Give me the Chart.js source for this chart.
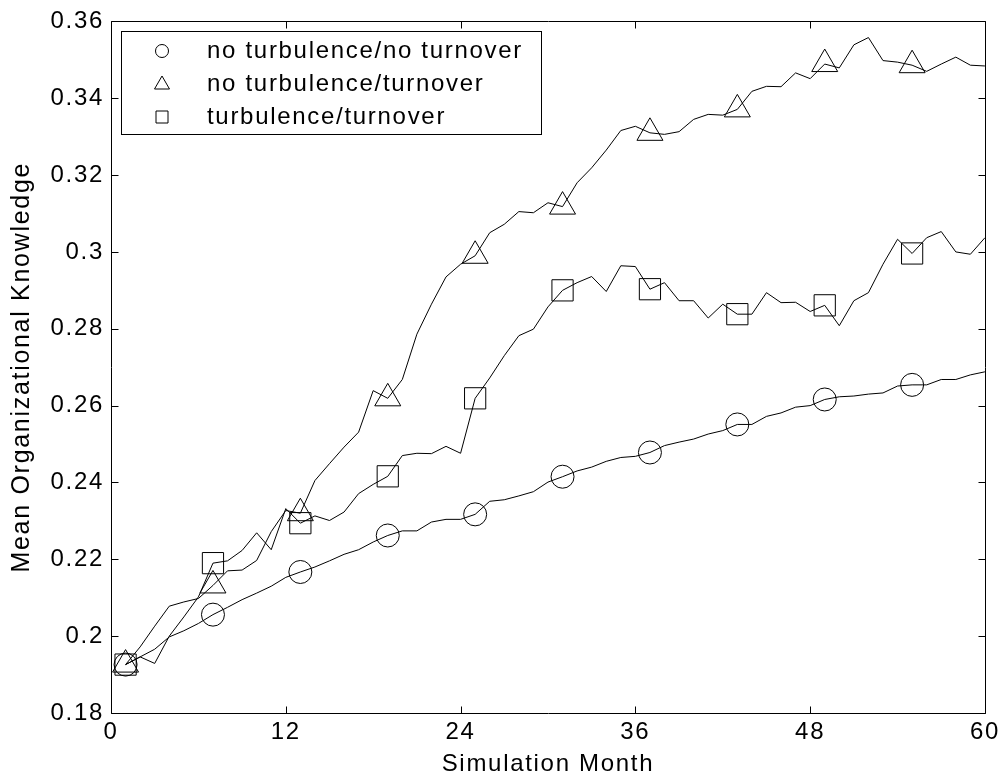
<!DOCTYPE html>
<html>
<head>
<meta charset="utf-8">
<script src="https://cdn.jsdelivr.net/npm/chart.js@4.4.1/dist/chart.umd.min.js"></script>
<style>
    html, body { margin: 0; padding: 0; background: #fff; }
    #wrap { width: 1005px; height: 778px; }
</style>
</head>
<body>
<div id="wrap"><canvas id="knowledge-chart"></canvas></div>
<script>
const months = [
    1, 2, 3, 4, 5, 6, 7, 8, 9, 10, 11, 12, 13, 14, 15, 16, 17, 18, 19, 20,
    21, 22, 23, 24, 25, 26, 27, 28, 29, 30, 31, 32, 33, 34, 35, 36, 37, 38, 39, 40,
    41, 42, 43, 44, 45, 46, 47, 48, 49, 50, 51, 52, 53, 54, 55, 56, 57, 58, 59, 60,
];

const noTurbNoTurnover = [
    0.1926, 0.1946, 0.1966, 0.1998, 0.2014, 0.2033, 0.2056, 0.2075, 0.2095, 0.2112,
    0.2130, 0.2153, 0.2167, 0.2180, 0.2196, 0.2213, 0.2225, 0.2245, 0.2262, 0.2274,
    0.2274, 0.2297, 0.2304, 0.2304, 0.2317, 0.2351, 0.2355, 0.2365, 0.2376, 0.2401,
    0.2415, 0.2430, 0.2440, 0.2455, 0.2465, 0.2468, 0.2478, 0.2496, 0.2505, 0.2513,
    0.2526, 0.2535, 0.2551, 0.2551, 0.2572, 0.2581, 0.2596, 0.2600, 0.2616, 0.2623,
    0.2625, 0.2630, 0.2633, 0.2651, 0.2654, 0.2654, 0.2668, 0.2668, 0.2680, 0.2688,
];

const noTurbTurnover = [
    0.1926, 0.1972, 0.2026, 0.2078, 0.2089, 0.2098, 0.2132, 0.2170, 0.2172, 0.2197,
    0.2272, 0.2327, 0.2320, 0.2405, 0.2449, 0.2492, 0.2531, 0.2639, 0.2619, 0.2668,
    0.2786, 0.2864, 0.2935, 0.2968, 0.2990, 0.3050, 0.3072, 0.3105, 0.3102, 0.3128,
    0.3118, 0.3180, 0.3219, 0.3265, 0.3316, 0.3327, 0.3310, 0.3306, 0.3313, 0.3345,
    0.3358, 0.3356, 0.3371, 0.3418, 0.3431, 0.3430, 0.3466, 0.3451, 0.3489, 0.3479,
    0.3539, 0.3558, 0.3498, 0.3494, 0.3486, 0.3470, 0.3489, 0.3507, 0.3486, 0.3484,
];

const turbTurnover = [
    0.1926, 0.1946, 0.1929, 0.2000, 0.2050, 0.2102, 0.2190, 0.2196, 0.2223, 0.2269,
    0.2225, 0.2332, 0.2294, 0.2313, 0.2301, 0.2323, 0.2371, 0.2395, 0.2416, 0.2470,
    0.2476, 0.2475, 0.2494, 0.2476, 0.2619, 0.2672, 0.2730, 0.2782, 0.2799, 0.2857,
    0.2900, 0.2920, 0.2936, 0.2897, 0.2964, 0.2962, 0.2903, 0.2920, 0.2873, 0.2873,
    0.2828, 0.2864, 0.2838, 0.2838, 0.2894, 0.2868, 0.2869, 0.2845, 0.2861, 0.2808,
    0.2873, 0.2894, 0.2968, 0.3033, 0.2996, 0.3037, 0.3053, 0.3000, 0.2994, 0.3037,
];

const seriesLabels = [
    "no turbulence/no turnover",
    "no turbulence/turnover",
    "turbulence/turnover",
];

const xTicks = [0, 12, 24, 36, 48, 60];
const yTicks = [0.18, 0.2, 0.22, 0.24, 0.26, 0.28, 0.3, 0.32, 0.34, 0.36];

const FONT = "'Liberation Sans', Arial, Helvetica, sans-serif";
const FONT_SIZE = 24;
// the original matlab text is drawn wider than arial, so space it out a bit
const LETTER_SPACING = "1.7px";

function toPoints(values) {
    return values.map((v, i) => ({ x: months[i], y: v }));
}

// markers only every 6th month, like the original plot
function markerEvery6(radius) {
    return (c) => (c.dataIndex % 6 === 0 ? radius : 0);
}

function makeDataset(label, values, style, radius) {
    return {
        label: label,
        data: toPoints(values),
        borderColor: "#000",
        borderWidth: 1,
        tension: 0,
        pointStyle: style,
        pointRadius: markerEvery6(radius),
        pointBorderColor: "#000",
        pointBackgroundColor: "rgba(0,0,0,0)",
        pointBorderWidth: 1,
    };
}

const wideText = {
    id: "wideText",
    beforeLayout(chart) {
        chart.ctx.letterSpacing = LETTER_SPACING;
    },
    beforeDraw(chart) {
        chart.ctx.letterSpacing = LETTER_SPACING;
    },
};

// box around the plot with inward ticks on all four sides
const frameBox = {
    id: "frameBox",
    beforeDatasetsDraw(chart) {
        const { ctx, chartArea: a, scales } = chart;
        const len = 7;
        const l = Math.round(a.left) + 0.5;
        const r = Math.round(a.right) + 0.5;
        const t = Math.round(a.top) + 0.5;
        const b = Math.round(a.bottom) + 0.5;
        ctx.save();
        ctx.strokeStyle = "#000";
        ctx.lineWidth = 1;
        ctx.beginPath();
        ctx.rect(l, t, r - l, b - t);
        xTicks.forEach((v) => {
            const px = Math.round(scales.x.getPixelForValue(v)) + 0.5;
            ctx.moveTo(px, b);
            ctx.lineTo(px, b - len);
            ctx.moveTo(px, t);
            ctx.lineTo(px, t + len);
        });
        yTicks.forEach((v) => {
            const py = Math.round(scales.y.getPixelForValue(v)) + 0.5;
            ctx.moveTo(l, py);
            ctx.lineTo(l + len, py);
            ctx.moveTo(r, py);
            ctx.lineTo(r - len, py);
        });
        ctx.stroke();
        ctx.restore();
    },
};

function drawLegendMarker(ctx, style, x, y) {
    ctx.beginPath();
    if (style === "circle") {
        ctx.arc(x, y, 6.5, 0, Math.PI * 2);
    } else if (style === "triangle") {
        ctx.moveTo(x, y - 8);
        ctx.lineTo(x + 7.5, y + 5);
        ctx.lineTo(x - 7.5, y + 5);
        ctx.closePath();
    } else {
        ctx.rect(x - 6, y - 6, 12, 12);
    }
    ctx.stroke();
}

// matlab style legend box in the upper left corner
const boxLegend = {
    id: "boxLegend",
    afterDatasetsDraw(chart) {
        const { ctx, chartArea: a } = chart;
        const left = Math.round(a.left) + 10;
        const top = Math.round(a.top) + 10;
        const w = 420;
        const h = 103;
        ctx.save();
        ctx.fillStyle = "#fff";
        ctx.fillRect(left, top, w, h);
        ctx.strokeStyle = "#000";
        ctx.lineWidth = 1;
        ctx.strokeRect(left + 0.5, top + 0.5, w, h);
        ctx.font = FONT_SIZE + "px " + FONT;
        ctx.textBaseline = "middle";
        ctx.textAlign = "left";
        chart.data.datasets.forEach((ds, i) => {
            const cy = top + 20 + i * 33;
            drawLegendMarker(ctx, ds.pointStyle, left + 41, cy);
            ctx.fillStyle = "#000";
            ctx.fillText(ds.label, left + 86, cy);
        });
        ctx.restore();
    },
};

const tickFont = { family: FONT, size: FONT_SIZE };

new Chart(document.getElementById("knowledge-chart"), {
    type: "line",
    data: {
        datasets: [
            makeDataset(seriesLabels[0], noTurbNoTurnover, "circle", 11.5),
            makeDataset(seriesLabels[1], noTurbTurnover, "triangle", 15),
            makeDataset(seriesLabels[2], turbTurnover, "rect", 15),
        ],
    },
    options: {
        responsive: true,
        maintainAspectRatio: false,
        animation: false,
        events: [],
        layout: { padding: { left: 0, right: 17, top: 20, bottom: 0 } },
        plugins: {
            legend: { display: false },
            tooltip: { enabled: false },
        },
        scales: {
            x: {
                type: "linear",
                min: 0,
                max: 60,
                afterBuildTicks: (s) => {
                    s.ticks = xTicks.map((v) => ({ value: v }));
                },
                afterFit: (s) => {
                    s.height = 65;
                },
                grid: { display: false, drawTicks: false, tickLength: 0 },
                border: { display: false },
                ticks: {
                    font: tickFont,
                    color: "#000",
                    padding: 5,
                    maxRotation: 0,
                    autoSkip: false,
                    callback: (v) => String(v),
                },
                title: {
                    display: true,
                    text: "Simulation Month",
                    font: { family: FONT, size: FONT_SIZE, lineHeight: 1.1 },
                    color: "#000",
                    padding: { top: 0, bottom: 0 },
                },
            },
            y: {
                type: "linear",
                min: 0.18,
                max: 0.36,
                afterBuildTicks: (s) => {
                    s.ticks = yTicks.map((v) => ({ value: v }));
                },
                afterFit: (s) => {
                    s.width = 111;
                },
                grid: { display: false, drawTicks: false, tickLength: 0 },
                border: { display: false },
                ticks: {
                    font: tickFont,
                    color: "#000",
                    padding: 7,
                    autoSkip: false,
                    callback: (v) => String(Number(v.toFixed(2))),
                },
                title: {
                    display: true,
                    text: "Mean Organizational Knowledge",
                    font: { family: FONT, size: 25 },
                    color: "#000",
                    padding: { top: 7, bottom: 0 },
                },
            },
        },
    },
    plugins: [wideText, frameBox, boxLegend],
});
</script>
</body>
</html>
